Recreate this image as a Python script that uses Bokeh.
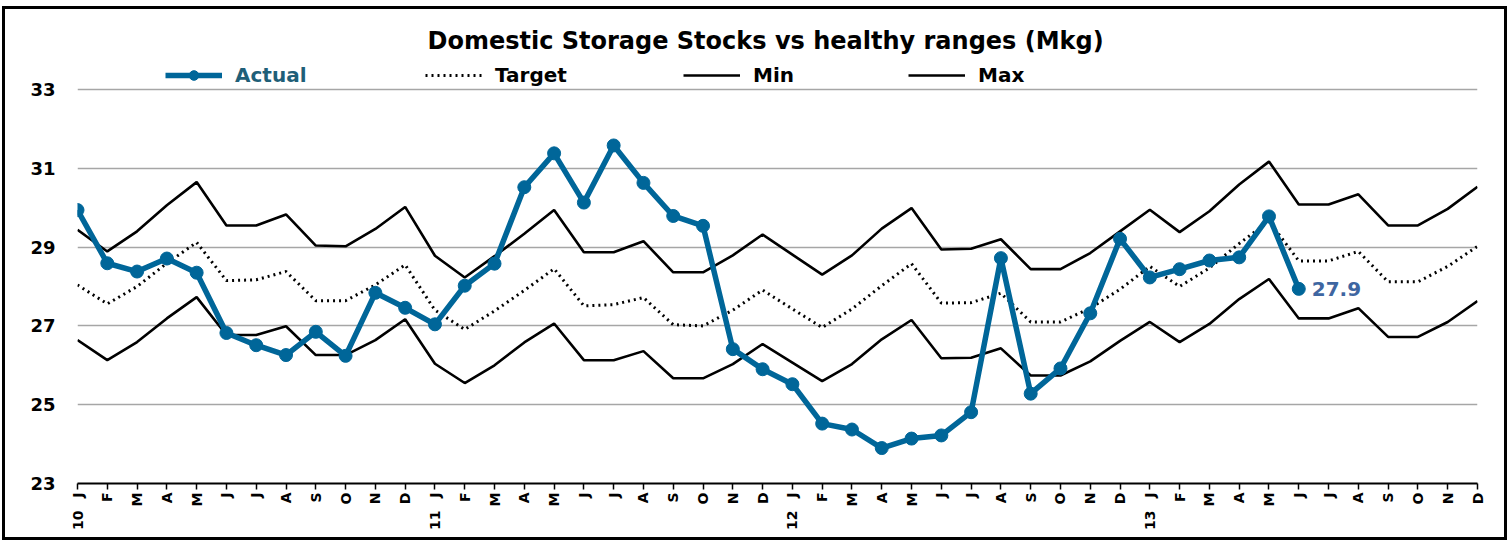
from bokeh.plotting import figure
from bokeh.models import (Range1d, FixedTicker, Legend, LegendItem, Label,
                          LinearAxis)
from bokeh.embed import file_html
from bokeh.resources import INLINE
from math import pi

# ---- data -------------------------------------------------------------
months = ["J", "F", "M", "A", "M", "J", "J", "A", "S", "O", "N", "D"]
years = ["10", "11", "12", "13"]
month_labels = [m for y in years for m in months]
year_labels = years

actual = [29.94, 28.59, 28.38, 28.71, 28.35, 26.82, 26.51, 26.26, 26.85, 26.24,
          27.84, 27.46, 27.04, 28.02, 28.58, 30.52, 31.38, 30.13, 31.58, 30.63,
          29.79, 29.54, 26.41, 25.90, 25.52, 24.52, 24.37, 23.90, 24.14, 24.22,
          24.81, 28.72, 25.28, 25.92, 27.32, 29.21, 28.23, 28.44, 28.66, 28.74,
          29.78, 27.94]

target = [28.04, 27.56, 28.00, 28.59, 29.12, 28.15, 28.17, 28.38, 27.64, 27.64,
          28.04, 28.55, 27.40, 26.91, 27.38, 27.90, 28.45, 27.51, 27.54, 27.72,
          27.03, 27.00, 27.40, 27.91, 27.43, 26.96, 27.43, 28.02, 28.58, 27.58,
          27.59, 27.83, 27.10, 27.10, 27.45, 27.93, 28.51, 28.00, 28.47, 29.09,
          29.66, 28.65, 28.65, 28.89, 28.12, 28.12, 28.51, 29.02]

min_vals = [26.64, 26.13, 26.59, 27.19, 27.73, 26.77, 26.77, 26.99, 26.26, 26.26,
            26.64, 27.17, 26.04, 25.55, 26.00, 26.58, 27.06, 26.13, 26.13, 26.36,
            25.67, 25.67, 26.03, 26.54, 26.07, 25.60, 26.03, 26.66, 27.15, 26.18,
            26.19, 26.43, 25.74, 25.74, 26.10, 26.62, 27.10, 26.59, 27.05, 27.68,
            28.19, 27.19, 27.19, 27.45, 26.72, 26.72, 27.10, 27.63]

max_vals = [29.44, 28.89, 29.40, 30.06, 30.65, 29.55, 29.55, 29.83, 29.04, 29.02,
            29.46, 30.02, 28.78, 28.23, 28.77, 29.34, 29.94, 28.87, 28.87, 29.15,
            28.36, 28.36, 28.79, 29.32, 28.81, 28.30, 28.79, 29.47, 29.99, 28.94,
            28.96, 29.20, 28.44, 28.44, 28.85, 29.40, 29.95, 29.38, 29.91, 30.59,
            31.17, 30.08, 30.08, 30.34, 29.55, 29.55, 29.97, 30.53]

y_ticks = [23, 25, 27, 29, 31, 33]

x_all = list(range(len(month_labels)))
x_act = list(range(len(actual)))
year_pos = [i * 12 for i in range(len(years))]

# ---- style --------------------------------------------------------------
FONT = "DejaVu Sans"
BLUE = "#006699"

p = figure(width=1505, height=534, output_backend="svg", toolbar_location=None,
           x_range=Range1d(0, len(month_labels) - 1), y_range=Range1d(23, 34.904),
           min_border_left=72, min_border_right=33, min_border_top=5,
           min_border_bottom=60)
p.styles = {"border": "3px solid black", "position": "relative",
            "left": "2px", "top": "6px"}
p.outline_line_color = None
p.background_fill_color = "white"
p.border_fill_color = "white"

# month axis
p.xaxis.ticker = FixedTicker(ticks=x_all)
p.xaxis.major_label_overrides = {i: t for i, t in enumerate(month_labels)}
p.xaxis.major_label_orientation = pi / 2
p.xaxis.major_label_text_font = FONT
p.xaxis.major_label_text_font_style = "bold"
p.xaxis.major_label_text_font_size = "14px"
p.xaxis.major_label_text_color = "black"
p.xaxis.axis_line_color = "black"
p.xaxis.axis_line_width = 2
p.xaxis.major_tick_line_color = "black"
p.xaxis.major_tick_line_width = 1.5
p.xaxis.major_tick_out = 6
p.xaxis.major_tick_in = 0
p.xaxis.minor_tick_line_color = None
p.xaxis.major_label_standoff = 3

# year axis (second level of category labels)
yr_axis = LinearAxis(ticker=FixedTicker(ticks=year_pos),
                     major_label_overrides={pos: y for pos, y in zip(year_pos, year_labels)},
                     major_label_orientation=pi / 2,
                     major_label_text_font=FONT,
                     major_label_text_font_style="bold",
                     major_label_text_font_size="14px",
                     major_label_text_color="black",
                     axis_line_color=None, major_tick_line_color=None,
                     minor_tick_line_color=None, major_tick_out=0,
                     major_tick_in=0, major_label_standoff=1)
p.add_layout(yr_axis, "below")

p.yaxis.ticker = FixedTicker(ticks=y_ticks)
p.yaxis.axis_line_color = None
p.yaxis.major_tick_line_color = None
p.yaxis.minor_tick_line_color = None
p.yaxis.major_tick_out = 0
p.yaxis.major_tick_in = 0
p.yaxis.major_label_standoff = 22
p.yaxis.major_label_text_font = FONT
p.yaxis.major_label_text_font_style = "bold"
p.yaxis.major_label_text_font_size = "18px"
p.yaxis.major_label_text_color = "black"

p.xgrid.grid_line_color = None
p.ygrid.grid_line_color = "#A6A6A6"
p.ygrid.grid_line_width = 1.5

# series
r_max = p.line(x_all, max_vals, line_color="black", line_width=2.6)
r_min = p.line(x_all, min_vals, line_color="black", line_width=2.6)
r_tgt = p.line(x_all, target, line_color="black", line_width=3,
               line_dash="2 4")
r_act = p.line(x_act, actual, line_color=BLUE, line_width=5.5,
               line_join="round")
r_act_pts = p.scatter(x_act, actual, size=13, fill_color=BLUE,
                      line_color=BLUE, marker="circle")

# last value label
p.add_layout(Label(x=x_act[-1], y=actual[-1], text=f"{actual[-1]:.1f}",
                   x_offset=13, y_offset=0, text_align="left",
                   text_baseline="alphabetic", text_font=FONT,
                   text_font_style="bold", text_font_size="20px",
                   text_color="#3E66A1"))

# title
p.add_layout(Label(x=23.1, y=34.24,
                   text="Domestic Storage Stocks vs healthy ranges (Mkg)",
                   text_align="center", text_baseline="middle",
                   text_font=FONT, text_font_style="bold",
                   text_font_size="24px", text_color="black"))

# legends (one per item, placed like the original)
def add_leg(label, renderers, xloc, color):
    leg = Legend(items=[LegendItem(label=label, renderers=renderers)],
                 location=(xloc, 396), orientation="horizontal",
                 glyph_width=57, glyph_height=24, label_height=24,
                 label_standoff=13, padding=0, margin=0, spacing=0,
                 border_line_color=None, background_fill_alpha=0,
                 label_text_font=FONT, label_text_font_style="bold",
                 label_text_font_size="20px", label_text_color=color)
    p.add_layout(leg, "center")

add_leg("Actual", [r_act, r_act_pts], 88, "#1F5F78")
add_leg("Target", [r_tgt], 348, "black")
add_leg("Min", [r_min], 606, "black")
add_leg("Max", [r_max], 831, "black")

open("out.html", "w").write(file_html(p, INLINE))
